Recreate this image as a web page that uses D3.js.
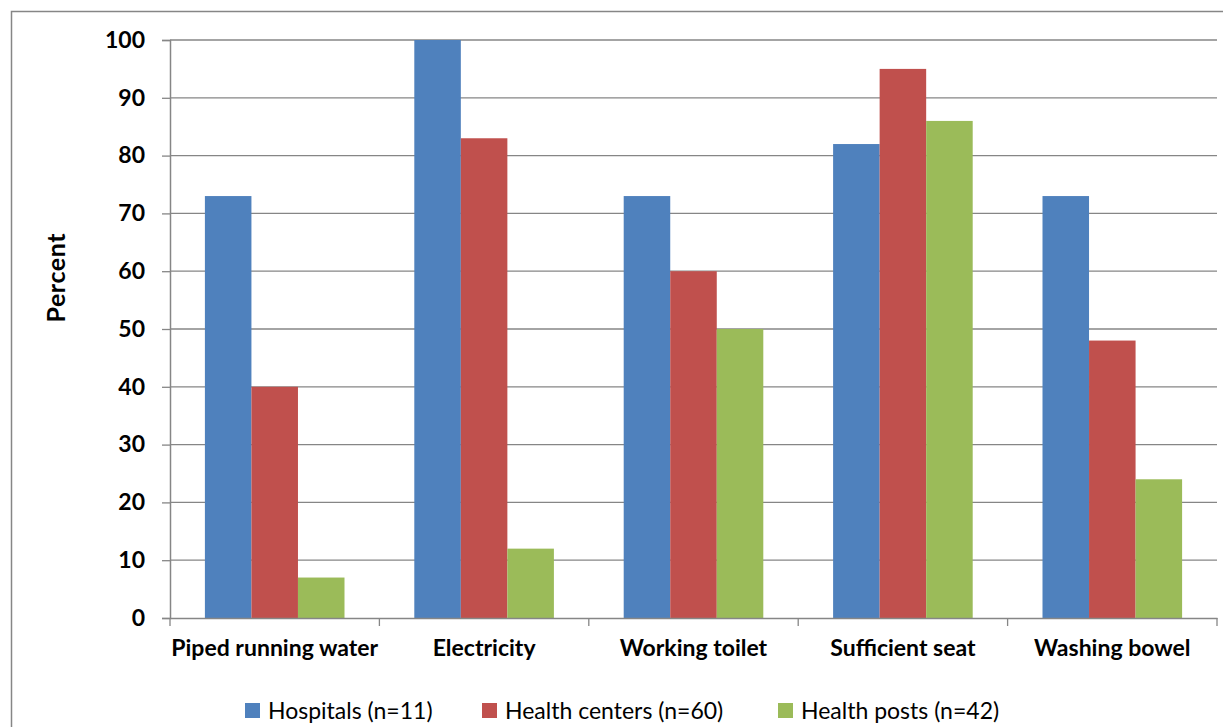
<!DOCTYPE html>
<html>
<head>
<meta charset="utf-8">
<script src="https://cdn.jsdelivr.net/npm/d3@7"></script>
<style>
  body { margin: 0; background: #fff; }
  svg { display: block; }
  text { font-family: Lato, "Open Sans", sans-serif; fill: #000; }
  .tick-label, .cat-label, .y-title { font-weight: bold; }
</style>
</head>
<body>
<div id="chart"></div>
<script>
// categories and series
var categories = ["Piped running water", "Electricity", "Working toilet", "Sufficient seat", "Washing bowel"];
var seriesNames = ["Hospitals (n=11)", "Health centers (n=60)", "Health posts (n=42)"];
var seriesColors = ["#4F81BD", "#C0504D", "#9BBB59"];
var hospitals = [73, 100, 73, 82, 73];
var healthCenters = [40, 83, 60, 95, 48];
var healthPosts = [7, 12, 50, 86, 24];
var yTicks = [0, 10, 20, 30, 40, 50, 60, 70, 80, 90, 100];

var seriesValues = [hospitals, healthCenters, healthPosts];

var width = 1223, height = 727;
var plot = { left: 170, right: 1217, top: 40, bottom: 618 };

var svg = d3.select("#chart").append("svg")
    .attr("width", width)
    .attr("height", height);

// outer chart frame (cut off at right and bottom like the original)
svg.append("rect")
    .attr("x", 11.5).attr("y", 11.5)
    .attr("width", width + 20).attr("height", height + 20)
    .attr("fill", "none")
    .attr("stroke", "#868686")
    .attr("stroke-width", 1.5);

var x0 = d3.scaleBand()
    .domain(categories)
    .range([plot.left, plot.right])
    .padding(0);

var x1 = d3.scaleBand()
    .domain(seriesNames)
    .range([0, x0.bandwidth()])
    .paddingInner(0)
    .paddingOuter(0.75);

var y = d3.scaleLinear()
    .domain([0, 100])
    .range([plot.bottom, plot.top]);

// gridlines
svg.append("g")
    .selectAll("line")
    .data(yTicks.filter(d => d > 0))
    .enter().append("line")
    .attr("x1", plot.left).attr("x2", plot.right)
    .attr("y1", d => y(d)).attr("y2", d => y(d))
    .attr("stroke", "#868686")
    .attr("stroke-width", 1.3);

// y axis
var yAxis = d3.axisLeft(y)
    .tickValues(yTicks)
    .tickSize(8)
    .tickPadding(17)
    .tickFormat(d3.format("d"));

var gy = svg.append("g")
    .attr("transform", `translate(${plot.left},0)`)
    .call(yAxis);
gy.select(".domain").attr("stroke", "#868686").attr("stroke-width", 1.5);
gy.selectAll(".tick line").attr("stroke", "#868686").attr("stroke-width", 1.3);
gy.selectAll(".tick text")
    .attr("class", "tick-label")
    .style("font-size", "23px")
    .style("font-family", "Lato, sans-serif");

// bars
var groups = svg.append("g")
    .selectAll("g")
    .data(categories)
    .enter().append("g")
    .attr("transform", d => `translate(${x0(d)},0)`);

groups.selectAll("rect")
    .data((c, ci) => seriesNames.map((s, si) => ({ series: s, value: seriesValues[si][ci], color: seriesColors[si] })))
    .enter().append("rect")
    .attr("x", d => x1(d.series))
    .attr("width", x1.bandwidth())
    .attr("y", d => y(d.value))
    .attr("height", d => y(0) - y(d.value))
    .attr("fill", d => d.color);

// x axis
var xAxis = d3.axisBottom(x0)
    .tickSize(0)
    .tickPadding(22);

var gx = svg.append("g")
    .attr("transform", `translate(0,${plot.bottom})`)
    .call(xAxis);
gx.select(".domain").attr("stroke", "#868686").attr("stroke-width", 1.5);
gx.selectAll(".tick text")
    .attr("class", "cat-label")
    .style("font-size", "23px")
    .style("font-family", "Lato, sans-serif");

// category separator ticks
gx.append("g")
    .selectAll("line")
    .data(categories.map(c => x0(c)).concat([plot.right]))
    .enter().append("line")
    .attr("x1", d => d).attr("x2", d => d)
    .attr("y1", 0).attr("y2", 8)
    .attr("stroke", "#868686")
    .attr("stroke-width", 1.3);

// y axis title (sits a bit above the plot centre, as in the original)
svg.append("text")
    .attr("class", "y-title")
    .attr("transform", "translate(65,278) rotate(-90)")
    .attr("text-anchor", "middle")
    .style("font-size", "25px")
    .attr("textLength", 89)
    .attr("lengthAdjust", "spacing")
    .text("Percent");

// legend
var legendX = [245, 482, 778];
var legend = svg.append("g")
    .selectAll("g")
    .data(seriesNames)
    .enter().append("g")
    .attr("transform", (d, i) => `translate(${legendX[i]},703)`);

legend.append("rect")
    .attr("width", 15).attr("height", 15)
    .attr("fill", (d, i) => seriesColors[i]);

legend.append("text")
    .attr("x", 23)
    .attr("y", 7.5)
    .attr("dy", "0.36em")
    .style("font-size", "23px")
    .text(d => d);
</script>
</body>
</html>
